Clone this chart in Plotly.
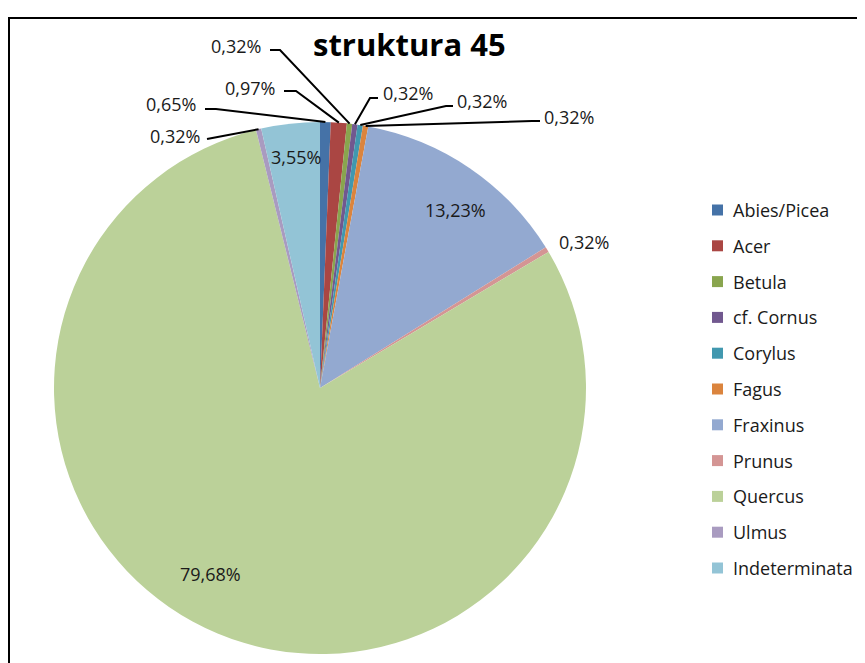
import math
import plotly.graph_objects as go

# ---- data ----
categories = ["Abies/Picea", "Acer", "Betula", "cf. Cornus", "Corylus", "Fagus",
              "Fraxinus", "Prunus", "Quercus", "Ulmus", "Indeterminata"]
counts = [2, 3, 1, 1, 1, 1, 41, 1, 247, 1, 11]
colors = ["#4572A7", "#AA4643", "#89A54E", "#71588F", "#4198AF", "#DB843D",
          "#93A9D0", "#D49594", "#BBD199", "#A99BC0", "#93C4D6"]
title_text = "struktura 45"

total = sum(counts)
pct_text = [f"{100 * c / total:.2f}".replace(".", ",") + "%" for c in counts]

# ---- layout geometry (page pixels; page body has an 8px offset) ----
W, H = 865, 663
OFF = 8
cx, cy, R = 320, 388, 266
FONT = "Open Sans"
LBL = 18

def px(x):
    return (x - OFF) / W

def py(y):
    return 1 - (y - OFF) / H

fig = go.Figure()
fig.add_trace(go.Pie(
    labels=categories,
    values=counts,
    marker=dict(colors=colors, line=dict(width=0)),
    sort=False,
    direction="clockwise",
    rotation=0,
    textinfo="none",
    hoverinfo="label+percent",
    showlegend=False,
    domain=dict(x=[px(cx - R), px(cx + R)], y=[py(cy + R), py(cy - R)]),
))

# slice mid-angle anchor points (computed from the data)
cum = 0
anchors = []
for c in counts:
    mid = (cum + c / 2) / total * 2 * math.pi
    anchors.append((cx + R * math.sin(mid), cy - R * math.cos(mid)))
    cum += c

annotations = []
shapes = []

# label placement: index -> (text x, text y, xanchor, elbow points list)
outside = {
    9: (202, 136, "right", [(207, 139)]),
    0: (198, 104, "right", [(205, 109), (216, 109)]),
    1: (277, 88, "right", [(284, 91), (296, 91)]),
    2: (263, 46, "right", [(270, 50), (280, 50)]),
    3: (381, 93, "left", [(378, 98), (370, 98)]),
    4: (455, 101, "left", [(453, 106), (446, 106)]),
    5: (542, 117, "left", [(540, 121), (532, 121)]),
    7: (557, 242, "left", []),
}
for i, (tx, ty, xa, pts) in outside.items():
    annotations.append(dict(x=px(tx), y=py(ty), xref="paper", yref="paper",
                            text=pct_text[i], showarrow=False, xanchor=xa,
                            yanchor="middle",
                            font=dict(family=FONT, size=LBL, color="#1a1a1a")))
    if pts:
        seq = pts + [anchors[i]]
        path = "M " + " L ".join(f"{px(a):.5f},{py(b):.5f}" for a, b in seq)
        shapes.append(dict(type="path", path=path, xref="paper", yref="paper",
                           line=dict(color="black", width=2)))

inside = {6: (456, 210), 10: (296, 157), 8: (210, 574)}
for i, (tx, ty) in inside.items():
    annotations.append(dict(x=px(tx), y=py(ty), xref="paper", yref="paper",
                            text=pct_text[i], showarrow=False, xanchor="center",
                            yanchor="middle",
                            font=dict(family=FONT, size=LBL, color="#1a1a1a")))

# title
annotations.append(dict(x=px(409), y=py(44), xref="paper", yref="paper",
                        text="<b>" + title_text + "</b>", showarrow=False,
                        xanchor="center", yanchor="middle",
                        font=dict(family=FONT, size=31, color="black")))

# legend (manual)
ly0, lstep = 210, 35.8
for i, name in enumerate(categories):
    yc = ly0 + i * lstep
    shapes.append(dict(type="rect", xref="paper", yref="paper",
                       x0=px(712), x1=px(723), y0=py(yc - 5.5), y1=py(yc + 5.5),
                       fillcolor=colors[i], line=dict(width=0)))
    annotations.append(dict(x=px(731), y=py(yc), xref="paper", yref="paper",
                            text=name, showarrow=False, xanchor="left",
                            yanchor="middle",
                            font=dict(family=FONT, size=LBL, color="#1a1a1a")))

# frame
shapes.append(dict(type="rect", xref="paper", yref="paper",
                   x0=px(9), x1=px(900), y0=py(700), y1=py(18),
                   line=dict(color="black", width=2), fillcolor="rgba(0,0,0,0)"))

fig.update_layout(
    width=W, height=H,
    margin=dict(l=0, r=0, t=0, b=0),
    paper_bgcolor="white",
    plot_bgcolor="white",
    annotations=annotations,
    shapes=shapes,
    showlegend=False,
)

fig.write_html("out.html")
